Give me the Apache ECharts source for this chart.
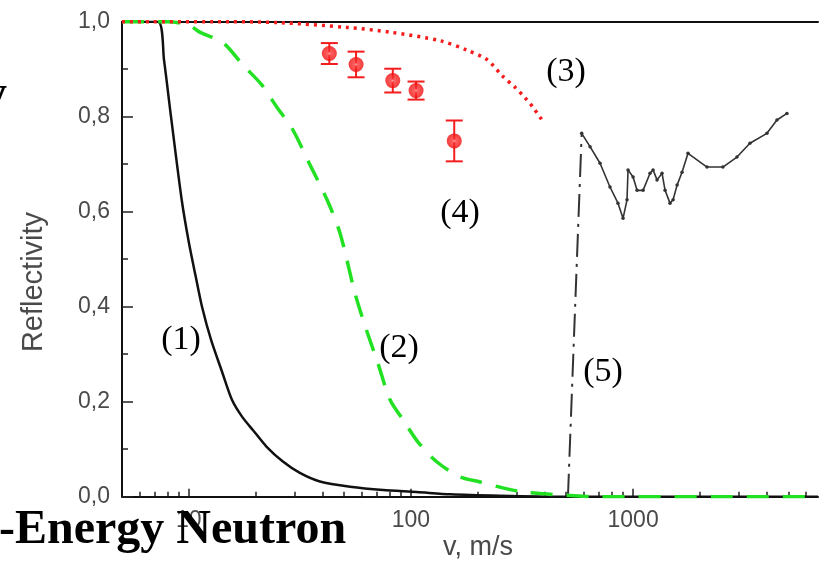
<!DOCTYPE html>
<html>
<head>
<meta charset="utf-8">
<style>
  html, body { margin: 0; padding: 0; background: #fff; }
  #chart { width: 824px; height: 567px; }
</style>
<script src="https://cdn.jsdelivr.net/npm/echarts@6/dist/echarts.min.js"></script>
</head>
<body>
<div id="chart"></div>
<script>
// ---- data (velocity v in m/s, reflectivity R) ----
const curve1V = [5, 7.26, 7.73, 8.31, 9.29, 10.0, 10.72, 11.46, 12.59, 14.13, 15.63, 17.38, 19.45, 22.4, 26.5, 31.6, 38.9, 53.2, 74.9, 106, 150, 250, 500, 6800];
const curve1R = [1, 1, 0.919, 0.80, 0.624, 0.535, 0.465, 0.40, 0.33, 0.262, 0.204, 0.168, 0.14, 0.105, 0.074, 0.05, 0.032, 0.021, 0.014, 0.01, 0.005, 0.002, 0, 0];

const curve2V = [5, 8, 10, 11.2, 14.3, 17.5, 21.3, 24.9, 29.1, 35, 41.9, 47.9, 56.0, 62.1, 71.1, 80.5, 92.1, 107.6, 131, 166, 205, 252, 319, 401, 505, 700, 6800];
const curve2R = [1, 1, 0.993, 0.978, 0.955, 0.909, 0.867, 0.82, 0.776, 0.70, 0.625, 0.555, 0.428, 0.36, 0.28, 0.204, 0.162, 0.115, 0.073, 0.042, 0.031, 0.02, 0.01, 0.006, 0.003, 0, 0];

const curve3V = [5, 15, 25.7, 51.5, 80.5, 135, 179, 220, 259, 294, 326, 354, 393];
const curve3R = [1, 1, 0.998, 0.988, 0.978, 0.96, 0.94, 0.92, 0.885, 0.862, 0.84, 0.82, 0.79];

const expV   = [42.9, 56.6, 82.8, 105.4, 156.6];
const expR   = [0.933, 0.910, 0.876, 0.855, 0.749];
const expErr = [0.022, 0.027, 0.025, 0.019, 0.043];

const edgeV = [509, 587];
const edgeR = [0, 0.765];

const curve5V = [587, 640, 710, 787, 855, 901, 939, 949, 1000, 1042, 1109, 1192, 1230, 1282, 1350, 1393, 1466, 1514, 1578, 1661, 1767, 2152, 2537, 2935, 3357, 4005, 4443, 4928];
const curve5R = [0.765, 0.737, 0.702, 0.652, 0.618, 0.586, 0.625, 0.688, 0.673, 0.645, 0.645, 0.681, 0.688, 0.667, 0.681, 0.645, 0.618, 0.625, 0.656, 0.683, 0.723, 0.694, 0.694, 0.715, 0.744, 0.765, 0.793, 0.807];

const xMajorTicks = [10, 100, 1000];
const xMinorTicks = [6, 7, 8, 9, 20, 30, 40, 50, 60, 70, 80, 90, 200, 300, 400, 500, 600, 700, 800, 900, 2000, 3000, 4000, 5000, 6000];

const curveLabels = ['(1)', '(2)', '(3)', '(4)', '(5)'];

// ---- helpers ----
const zip = (a, b) => a.map((v, i) => [v, b[i]]);
const RED = '#f41c1c';
const GREEN = '#22e022';
const LABEL_GRAY = '#4a4a4a';

const chart = echarts.init(document.getElementById('chart'), null, { renderer: 'canvas' });

const xMin = 5, xMax = 6800;
const serif = '"Liberation Serif", "Times New Roman", serif';

const option = {
  animation: false,
  backgroundColor: '#fff',
  grid: { left: 122, right: 6, top: 21.7, bottom: 70.3, containLabel: false },
  xAxis: [
    {
      type: 'log', min: xMin, max: xMax, position: 'bottom',
      axisLine: { show: true, lineStyle: { color: '#111', width: 2 } },
      axisTick: { show: true, inside: true, length: 8, customValues: xMajorTicks, lineStyle: { color: '#222', width: 1.5 } },
      axisLabel: { show: true, customValues: xMajorTicks, margin: 12, color: LABEL_GRAY, fontFamily: 'Liberation Sans, Arial, sans-serif', fontSize: 23, formatter: v => String(Math.round(v)) },
      splitLine: { show: false }, minorTick: { show: false }, minorSplitLine: { show: false }
    },
    {
      type: 'log', min: xMin, max: xMax, position: 'bottom',
      axisLine: { show: false },
      axisTick: { show: true, inside: true, length: 5, customValues: xMinorTicks, lineStyle: { color: '#222', width: 1.5 } },
      axisLabel: { show: false },
      splitLine: { show: false }
    },
    {
      type: 'log', min: xMin, max: xMax, position: 'top',
      axisLine: { show: true, lineStyle: { color: '#111', width: 2 } },
      axisTick: { show: false }, axisLabel: { show: false }, splitLine: { show: false }
    }
  ],
  yAxis: {
    type: 'value', min: 0, max: 1, interval: 0.2,
    axisLine: { show: true, lineStyle: { color: '#111', width: 2 } },
    axisTick: { show: true, inside: true, length: 11, lineStyle: { color: '#222', width: 1.5 } },
    minorTick: { show: true, splitNumber: 2, length: 6, lineStyle: { color: '#222', width: 1.5 } },
    axisLabel: { margin: 12, color: LABEL_GRAY, fontFamily: 'Liberation Sans, Arial, sans-serif', fontSize: 23, formatter: v => v.toFixed(1).replace('.', ',') },
    splitLine: { show: false }
  },
  series: [
    {
      name: '(1)', type: 'line', xAxisIndex: 0, data: zip(curve1V, curve1R),
      showSymbol: false, smooth: 0.25, z: 3,
      lineStyle: { color: '#111', width: 2.5 }
    },
    {
      name: '(5) edge', type: 'line', xAxisIndex: 0, data: zip(edgeV, edgeR),
      showSymbol: false, z: 3,
      lineStyle: { color: '#333', width: 2, type: [23, 7, 3, 7] }
    },
    {
      name: '(5)', type: 'line', xAxisIndex: 0, data: zip(curve5V, curve5R),
      symbol: 'circle', symbolSize: 3.5, showSymbol: true, z: 3,
      itemStyle: { color: '#333' },
      lineStyle: { color: '#333', width: 1.6 }
    },
    {
      name: '(2)', type: 'line', xAxisIndex: 0, data: zip(curve2V, curve2R),
      showSymbol: false, smooth: 0.3, z: 4,
      lineStyle: { color: GREEN, width: 3.5, type: [22, 14] }
    },
    {
      name: '(3)', type: 'line', xAxisIndex: 0, data: zip(curve3V, curve3R),
      showSymbol: false, smooth: 0.3, z: 5,
      lineStyle: { color: RED, width: 3.5, type: [3, 5] }
    },
    {
      name: '(4) err', type: 'custom', xAxisIndex: 0, z: 6,
      data: expV.map((v, i) => [v, expR[i], expErr[i]]),
      renderItem: function (params, api) {
        const x = api.value(0), y = api.value(1), e = api.value(2);
        const top = api.coord([x, y + e]);
        const bot = api.coord([x, y - e]);
        const hw = 8.5;
        const st = { stroke: RED, lineWidth: 2 };
        return {
          type: 'group',
          children: [
            { type: 'line', shape: { x1: top[0], y1: top[1], x2: bot[0], y2: bot[1] }, style: st },
            { type: 'line', shape: { x1: top[0] - hw, y1: top[1], x2: top[0] + hw, y2: top[1] }, style: st },
            { type: 'line', shape: { x1: bot[0] - hw, y1: bot[1], x2: bot[0] + hw, y2: bot[1] }, style: st }
          ]
        };
      }
    },
    {
      name: '(4)', type: 'scatter', xAxisIndex: 0, z: 7,
      data: zip(expV, expR), symbol: 'circle', symbolSize: 15,
      itemStyle: {
        color: new echarts.graphic.RadialGradient(0.5, 0.5, 0.5, [
          { offset: 0, color: '#ffd6d6' },
          { offset: 0.22, color: '#ff3a3a' },
          { offset: 1, color: '#ee0c0c' }
        ])
      }
    }
  ],
  graphic: [
    { type: 'text', x: 34, y: 282, rotation: Math.PI / 2, z: 10,
      style: { text: 'Reflectivity', fill: LABEL_GRAY, font: '29px "Liberation Sans", Arial, sans-serif', align: 'center', verticalAlign: 'middle' } },
    { type: 'text', x: 478, y: 548, z: 10,
      style: { text: 'v, m/s', fill: LABEL_GRAY, font: '27px "Liberation Sans", Arial, sans-serif', align: 'center', verticalAlign: 'middle' } },
    { type: 'text', x: 181, y: 340, z: 10,
      style: { text: curveLabels[0], fill: '#000', font: '34px ' + serif, align: 'center', verticalAlign: 'middle' } },
    { type: 'text', x: 399, y: 348, z: 10,
      style: { text: curveLabels[1], fill: '#000', font: '34px ' + serif, align: 'center', verticalAlign: 'middle' } },
    { type: 'text', x: 566, y: 72, z: 10,
      style: { text: curveLabels[2], fill: '#000', font: '34px ' + serif, align: 'center', verticalAlign: 'middle' } },
    { type: 'text', x: 460, y: 213, z: 10,
      style: { text: curveLabels[3], fill: '#000', font: '34px ' + serif, align: 'center', verticalAlign: 'middle' } },
    { type: 'text', x: 603, y: 372, z: 10,
      style: { text: curveLabels[4], fill: '#000', font: '34px ' + serif, align: 'center', verticalAlign: 'middle' } },
    { type: 'text', x: -1, y: 507, z: 20,
      style: { text: '-Energy Neutron', fill: '#000', font: 'bold 48px ' + serif, align: 'left', verticalAlign: 'top' } },
    { type: 'text', x: 7, y: 72, z: 20,
      style: { text: 'y', fill: '#000', font: 'bold 48px ' + serif, align: 'right', verticalAlign: 'top' } }
  ]
};

chart.setOption(option);
</script>
</body>
</html>
